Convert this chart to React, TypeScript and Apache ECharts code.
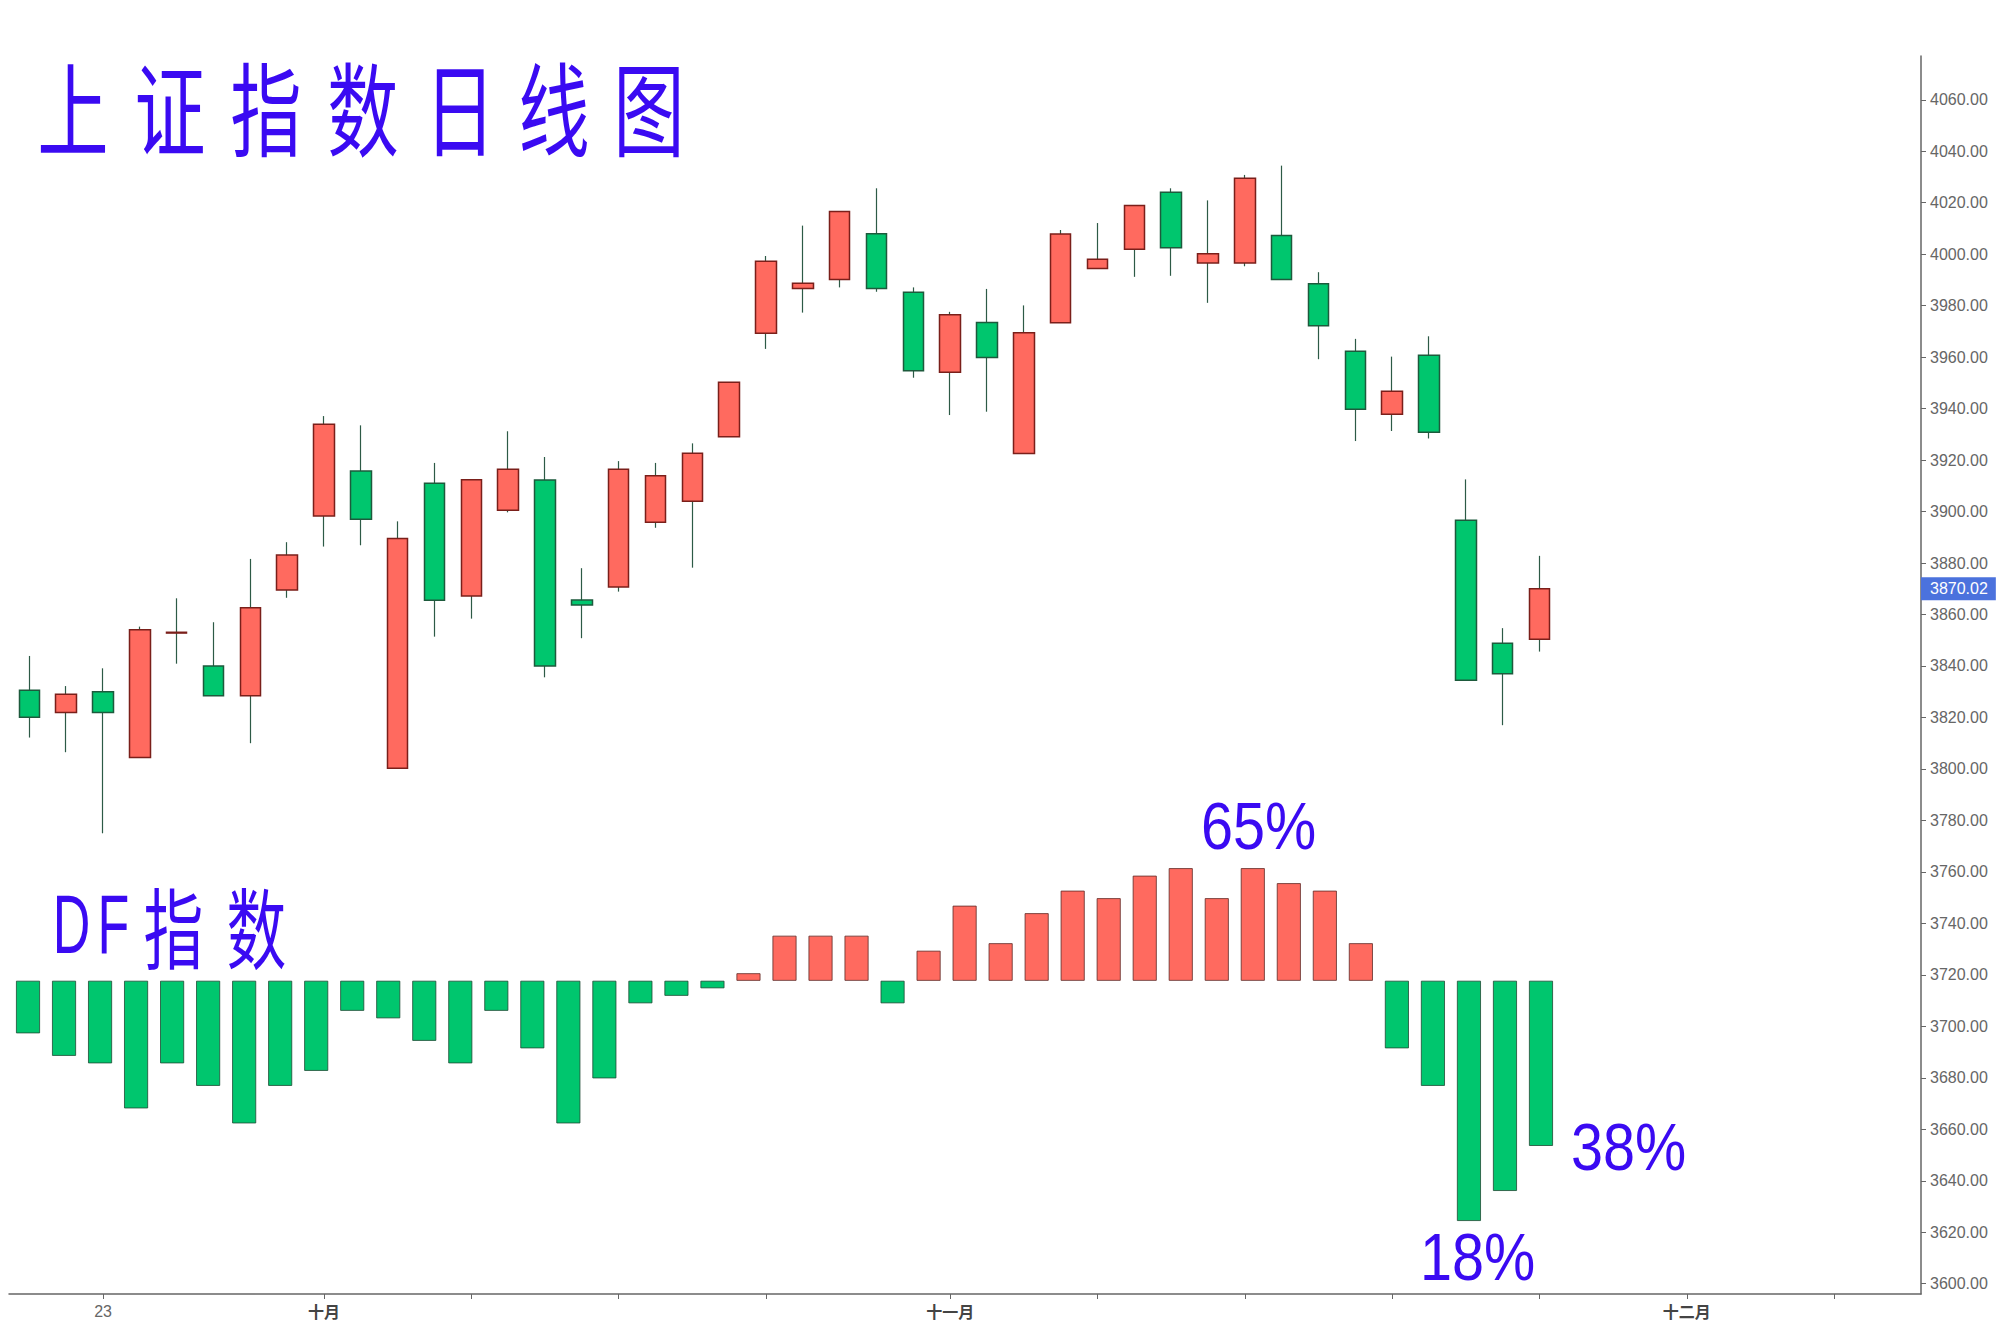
import React, { useEffect, useRef } from 'react';
import * as echarts from 'echarts';

// ---------- data ----------
// Daily candles: [open, close, low, high]
const candleOHLC: number[][] = [
  [3830.6, 3820.1, 3812.2, 3843.9],
  [3821.9, 3829.0, 3806.5, 3832.2],
  [3830.0, 3821.9, 3775.0, 3839.1],
  [3804.4, 3854.1, 3804.4, 3855.3],
  [3852.8, 3853.1, 3840.9, 3866.3],
  [3840.0, 3828.4, 3828.4, 3857.0],
  [3828.4, 3862.6, 3810.0, 3881.6],
  [3869.5, 3883.1, 3866.5, 3888.1],
  [3898.3, 3933.9, 3886.4, 3937.1],
  [3915.8, 3897.0, 3886.9, 3933.5],
  [3800.3, 3889.5, 3800.3, 3896.2],
  [3911.0, 3865.5, 3851.4, 3918.9],
  [3867.2, 3912.4, 3858.4, 3912.4],
  [3900.5, 3916.4, 3899.7, 3931.2],
  [3912.3, 3840.0, 3835.6, 3921.2],
  [3865.6, 3863.7, 3850.8, 3878.0],
  [3870.7, 3916.4, 3868.9, 3919.6],
  [3895.8, 3913.9, 3893.7, 3918.9],
  [3904.0, 3922.7, 3878.2, 3926.5],
  [3929.1, 3950.2, 3929.1, 3950.2],
  [3969.3, 3997.3, 3963.2, 3999.3],
  [3986.7, 3988.7, 3977.3, 4011.1],
  [3990.2, 4016.6, 3987.1, 4016.6],
  [4007.9, 3986.7, 3985.4, 4025.6],
  [3985.2, 3954.7, 3952.0, 3987.1],
  [3954.1, 3976.5, 3937.5, 3977.6],
  [3973.5, 3959.9, 3938.8, 3986.5],
  [3922.6, 3969.5, 3922.6, 3980.1],
  [3973.4, 4007.8, 3973.4, 4009.4],
  [3994.4, 3998.0, 3994.4, 4012.1],
  [4001.9, 4018.9, 3991.2, 4018.9],
  [4024.1, 4002.5, 3991.6, 4025.6],
  [3996.6, 4000.2, 3981.1, 4020.9],
  [3996.6, 4029.5, 3995.3, 4030.8],
  [4007.3, 3990.2, 3990.2, 4034.4],
  [3988.5, 3972.2, 3959.2, 3993.0],
  [3962.3, 3939.8, 3927.4, 3967.1],
  [3937.8, 3946.7, 3931.3, 3960.2],
  [3960.7, 3930.8, 3928.4, 3968.1],
  [3896.6, 3834.5, 3834.5, 3912.5],
  [3848.8, 3837.0, 3817.0, 3854.7],
  [3850.4, 3870.02, 3845.6, 3882.8],
];

// DF index (percent), neutral line at 50
const dfValues: number[] = [
  43, 40, 39, 33, 39, 36, 31, 36, 38, 46,
  45, 42, 39, 46, 41, 31, 37, 47, 48, 49,
  51, 56, 56, 56, 47, 54, 60, 55, 59, 62,
  61, 64, 65, 61, 65, 63, 62, 55, 41, 36,
  18, 22, 28,
];
const DF_BASE = 50;
const LAST_CLOSE = 3870.02;

const priceTicks = [
  3600, 3620, 3640, 3660, 3680, 3700, 3720, 3740, 3760, 3780, 3800, 3820,
  3840, 3860, 3880, 3900, 3920, 3940, 3960, 3980, 4000, 4020, 4040, 4060,
];
const xTickIdx = [2, 8, 12, 16, 20, 25, 29, 33, 37, 41, 45, 49];
const xLabelIdx = [2, 8, 25, 45];
const xLabelText = ['23', '十月', '十一月', '十二月'];

const titleText = '上证指数日线图';
const dfTitleText = 'DF指数';
const pctLabels = ['65%', '18%', '38%'];

// ---------- style ----------
const UP = '#ff6a5f';
const UP_BORDER = '#7a1f1a';
const DOWN = '#00c66e';
const DOWN_BORDER = '#1d5a3c';
const WICK = '#2d5a46';
const BLUE = '#3a0af2';
const CJK = "'Noto Sans CJK SC', sans-serif";
const SANS = "'Liberation Sans', Arial, sans-serif";

function charText(ch: string, x: number, y: number, size: number, family: string, sx: number, align = 'center') {
  return {
    type: 'text',
    x,
    y,
    scaleX: sx,
    z: 10,
    style: {
      text: ch,
      fontSize: size,
      fontFamily: family,
      fill: BLUE,
      align,
      textAlign: align,
      verticalAlign: 'middle',
      textVerticalAlign: 'middle',
    },
  };
}

export default function App() {
  const ref = useRef<HTMLDivElement>(null);

  useEffect(() => {
    if (!ref.current) return;
    const chart = echarts.init(ref.current, undefined, { renderer: 'svg' });

    const titleCenters = [73, 170, 266, 363, 460, 554, 649];
    const titleChars = Array.from(titleText);
    const dfChars = Array.from(dfTitleText);
    const dfCenters = [71.5, 113.5, 173.5, 256.5];
    const pctPos = [
      [1201, 825],
      [1420, 1256],
      [1571, 1146],
    ];

    const graphic: any[] = [];
    titleChars.forEach((ch, i) => graphic.push(charText(ch, titleCenters[i], 104, 102, CJK, 0.7)));
    dfChars.forEach((ch, i) => {
      const latin = /[A-Za-z]/.test(ch);
      graphic.push(
        charText(ch, dfCenters[i], 924, latin ? 84 : 88, latin ? SANS : CJK, latin ? 0.62 : 0.68)
      );
    });
    pctLabels.forEach((t, i) =>
      graphic.push(charText(t, pctPos[i][0], pctPos[i][1], 67, SANS, 0.86, 'left'))
    );

    const option: any = {
      animation: false,
      backgroundColor: '#ffffff',
      grid: [
        { left: 9, right: 84, top: 56, bottom: 34 },
        { left: 10, width: 1549, top: 56, bottom: 34 },
      ],
      xAxis: [
        {
          type: 'value',
          gridIndex: 0,
          min: -0.554,
          max: 51.36,
          splitLine: { show: false },
          axisLine: { show: true, onZero: false, lineStyle: { color: '#666', width: 1.5 } },
          axisTick: {
            show: true,
            length: 5,
            customValues: xTickIdx,
            lineStyle: { color: '#666', width: 1 },
          },
          axisLabel: {
            show: true,
            customValues: xLabelIdx,
            margin: 9,
            fontSize: 16,
            color: '#666',
            fontFamily: SANS,
            formatter: (v: number) => {
              const k = xLabelIdx.indexOf(Math.round(v));
              if (k < 0) return '';
              return k === 0 ? xLabelText[k] : '{m|' + xLabelText[k] + '}';
            },
            rich: {
              m: { fontSize: 16, fontWeight: 'bold', color: '#444', fontFamily: CJK },
            },
          },
        },
        {
          type: 'category',
          gridIndex: 1,
          show: false,
          data: dfValues.map((_, i) => String(i)),
        },
      ],
      yAxis: [
        {
          type: 'value',
          gridIndex: 0,
          position: 'right',
          min: 3596,
          max: 4077,
          splitLine: { show: false },
          axisLine: { show: true, onZero: false, lineStyle: { color: '#666', width: 1.5 } },
          axisTick: {
            show: true,
            length: 5,
            customValues: priceTicks,
            lineStyle: { color: '#666', width: 1 },
          },
          axisLabel: {
            show: true,
            customValues: priceTicks,
            formatter: (v: number) => v.toFixed(2),
            fontSize: 16,
            color: '#666',
            margin: 9,
            fontFamily: SANS,
          },
        },
        {
          type: 'value',
          gridIndex: 1,
          show: false,
          min: -41.73,
          max: 123.2,
        },
      ],
      series: [
        {
          type: 'bar',
          name: 'DF',
          xAxisIndex: 1,
          yAxisIndex: 1,
          barWidth: 24,
          silent: true,
          data: dfValues.map((v) => ({
            value: v - DF_BASE,
            itemStyle:
              v >= DF_BASE
                ? { color: UP, borderColor: '#5e2a26', borderWidth: 0.8 }
                : { color: DOWN, borderColor: '#1e4a34', borderWidth: 0.8 },
          })),
        },
        {
          type: 'candlestick',
          name: 'wick',
          xAxisIndex: 0,
          yAxisIndex: 0,
          barWidth: 1,
          silent: true,
          data: candleOHLC.map((d, i) => [i, d[0], d[1], d[2], d[3]]),
          itemStyle: {
            color: WICK,
            color0: WICK,
            borderColor: WICK,
            borderColor0: WICK,
            borderWidth: 1.2,
          },
        },
        {
          type: 'candlestick',
          name: 'body',
          xAxisIndex: 0,
          yAxisIndex: 0,
          barWidth: 21,
          silent: true,
          data: candleOHLC.map((d, i) => [
            i,
            d[0],
            d[1],
            Math.min(d[0], d[1]),
            Math.max(d[0], d[1]),
          ]),
          itemStyle: {
            color: UP,
            color0: DOWN,
            borderColor: UP_BORDER,
            borderColor0: DOWN_BORDER,
            borderWidth: 1.5,
          },
          markLine: {
            silent: true,
            symbol: ['none', 'none'],
            lineStyle: { color: 'transparent', width: 0 },
            label: {
              show: true,
              position: 'end',
              distance: 0,
              formatter: LAST_CLOSE.toFixed(2),
              color: '#ffffff',
              backgroundColor: '#4b72dd',
              padding: [4, 8, 3, 9],
              fontSize: 16,
              fontFamily: SANS,
            },
            data: [{ yAxis: LAST_CLOSE }],
          },
        },
      ],
      graphic,
    };

    chart.setOption(option);
    return () => chart.dispose();
  }, []);

  return (
    <div
      ref={ref}
      style={{ position: 'absolute', left: 0, top: 0, width: 2005, height: 1328 }}
    />
  );
}
